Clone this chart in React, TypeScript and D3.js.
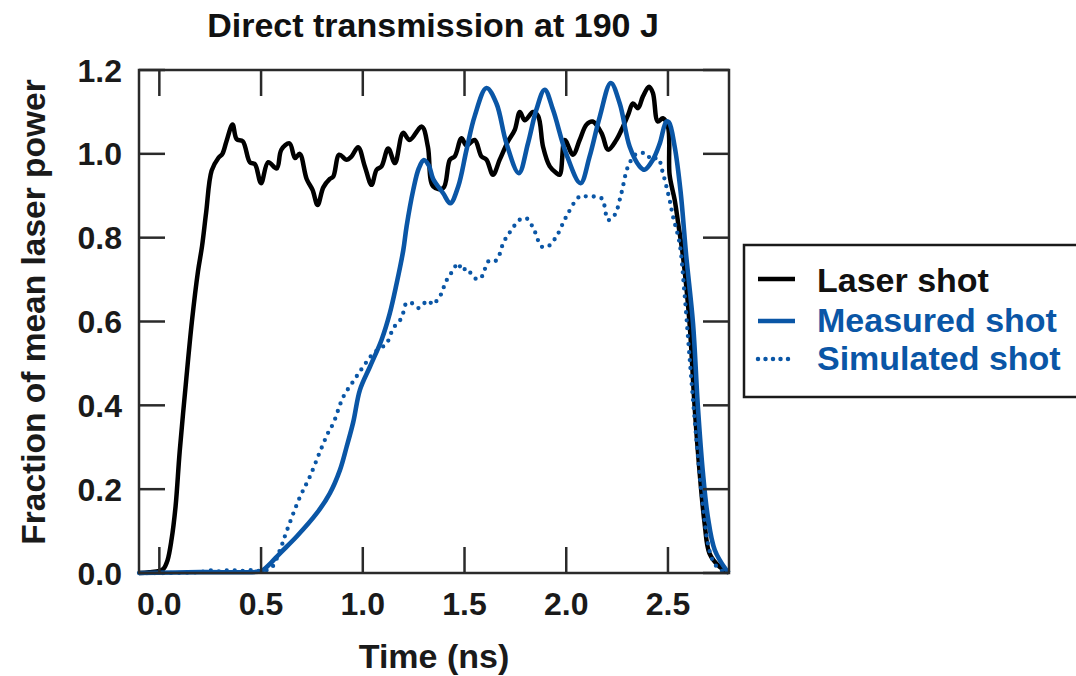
import React from "react";
import * as d3 from "d3";

const title = "Direct transmission at 190 J";
const xLabel = "Time (ns)";
const yLabel = "Fraction of mean laser power";
const xTicks = [0, 0.5, 1.0, 1.5, 2.0, 2.5];
const yTicks = [0, 0.2, 0.4, 0.6, 0.8, 1.0, 1.2];
const seriesNames = ["Laser shot", "Measured shot", "Simulated shot"];

const laserT = [-0.1, -0.05, 0.0, 0.02, 0.04, 0.06, 0.08, 0.1, 0.13, 0.16, 0.19, 0.21, 0.23, 0.257, 0.29, 0.31, 0.33, 0.36, 0.38, 0.41, 0.445, 0.47, 0.5, 0.535, 0.577, 0.6, 0.64, 0.667, 0.69, 0.724, 0.753, 0.778, 0.806, 0.838, 0.855, 0.884, 0.92, 0.945, 0.977, 1.01, 1.043, 1.068, 1.092, 1.125, 1.158, 1.198, 1.23, 1.29, 1.32, 1.346, 1.395, 1.428, 1.452, 1.485, 1.51, 1.55, 1.583, 1.608, 1.64, 1.673, 1.714, 1.747, 1.772, 1.796, 1.837, 1.862, 1.886, 1.919, 1.952, 1.968, 1.993, 2.033, 2.066, 2.1, 2.13, 2.173, 2.206, 2.246, 2.279, 2.304, 2.328, 2.353, 2.377, 2.407, 2.426, 2.45, 2.475, 2.5, 2.508, 2.533, 2.55, 2.574, 2.606, 2.631, 2.656, 2.68, 2.704, 2.754, 2.795];
const laserV = [0.0, 0.002, 0.005, 0.01, 0.03, 0.08, 0.16, 0.29, 0.45, 0.6, 0.72, 0.78, 0.86, 0.96, 0.99, 1.0, 1.03, 1.07, 1.035, 1.03, 0.98, 0.975, 0.93, 0.98, 0.965, 1.01, 1.025, 0.99, 1.0, 0.94, 0.914, 0.878, 0.92, 0.94, 0.946, 0.998, 0.986, 0.994, 1.016, 0.97, 0.926, 0.962, 0.97, 1.013, 0.978, 1.05, 1.033, 1.065, 1.017, 0.922, 0.918, 0.986, 0.994, 1.037, 1.02, 1.033, 0.994, 0.986, 0.95, 0.986, 1.03, 1.057, 1.1, 1.08, 1.1, 1.09, 1.017, 0.97, 0.954, 0.95, 1.033, 0.998, 1.033, 1.07, 1.077, 1.05, 1.01, 1.033, 1.065, 1.093, 1.12, 1.109, 1.137, 1.16, 1.145, 1.077, 1.085, 1.065, 0.95, 0.89, 0.835, 0.755, 0.597, 0.397, 0.238, 0.119, 0.047, 0.015, 0.003];

const measuredT = [-0.1, 0.2, 0.5, 0.51, 0.55, 0.593, 0.675, 0.773, 0.838, 0.888, 0.92, 0.953, 0.986, 1.035, 1.092, 1.133, 1.166, 1.199, 1.215, 1.248, 1.275, 1.3, 1.325, 1.346, 1.395, 1.43, 1.469, 1.51, 1.55, 1.608, 1.657, 1.706, 1.767, 1.812, 1.853, 1.894, 1.935, 2.0, 2.07, 2.115, 2.165, 2.219, 2.263, 2.312, 2.361, 2.385, 2.426, 2.46, 2.492, 2.505, 2.533, 2.562, 2.59, 2.623, 2.647, 2.672, 2.696, 2.73, 2.787, 2.8];
const measuredV = [0.0, 0.002, 0.004, 0.007, 0.025, 0.047, 0.087, 0.142, 0.19, 0.246, 0.3, 0.36, 0.437, 0.492, 0.556, 0.62, 0.69, 0.77, 0.826, 0.914, 0.965, 0.985, 0.972, 0.94, 0.906, 0.882, 0.922, 1.01, 1.09, 1.157, 1.12, 1.025, 0.954, 1.025, 1.105, 1.153, 1.105, 1.0, 0.93, 0.994, 1.089, 1.169, 1.12, 1.017, 0.97, 0.962, 0.986, 1.025, 1.077, 1.075, 1.017, 0.91, 0.755, 0.596, 0.397, 0.238, 0.134, 0.055, 0.007, 0.0];

const simulatedT = [-0.1, 0.2, 0.25, 0.3, 0.35, 0.4, 0.45, 0.5, 0.55, 0.593, 0.626, 0.69, 0.74, 0.79, 0.83, 0.855, 0.904, 0.953, 1.002, 1.052, 1.117, 1.15, 1.19, 1.215, 1.24, 1.273, 1.289, 1.32, 1.346, 1.37, 1.392, 1.403, 1.424, 1.444, 1.469, 1.488, 1.51, 1.534, 1.564, 1.591, 1.603, 1.621, 1.654, 1.673, 1.685, 1.7, 1.726, 1.772, 1.805, 1.845, 1.878, 1.91, 1.952, 2.0, 2.066, 2.107, 2.173, 2.206, 2.238, 2.271, 2.304, 2.345, 2.394, 2.418, 2.45, 2.475, 2.508, 2.525, 2.557, 2.58, 2.606, 2.64, 2.672, 2.696, 2.72, 2.75, 2.78];
const simulatedV = [0.0, 0.002, 0.006, 0.004, 0.007, 0.005, 0.007, 0.005, 0.012, 0.055, 0.1, 0.18, 0.23, 0.29, 0.335, 0.357, 0.42, 0.457, 0.492, 0.524, 0.548, 0.584, 0.608, 0.644, 0.644, 0.632, 0.637, 0.65, 0.64, 0.655, 0.671, 0.691, 0.707, 0.723, 0.739, 0.721, 0.727, 0.713, 0.7, 0.711, 0.729, 0.745, 0.745, 0.761, 0.78, 0.796, 0.815, 0.843, 0.846, 0.815, 0.779, 0.779, 0.803, 0.85, 0.898, 0.898, 0.894, 0.842, 0.854, 0.906, 0.97, 1.0, 1.0, 0.986, 0.99, 0.954, 0.89, 0.85, 0.787, 0.675, 0.516, 0.317, 0.158, 0.071, 0.03, 0.01, 0.002];

const BLUE = "#0a56a6";
const AXIS = "#2a2a2a";
const FONT = "'Liberation Sans', Arial, Helvetica, sans-serif";

export default function App() {
  const W = 1076;
  const H = 676;
  const left = 139, right = 729, top = 70, bottom = 573;
  const x = d3.scaleLinear().domain([-0.1, 2.8]).range([left, right]);
  const y = d3.scaleLinear().domain([0, 1.2]).range([bottom, top]);

  const mk = (ts: number[], vs: number[]) => ts.map((t, i) => [t, vs[i]] as [number, number]);
  const line = d3
    .line<[number, number]>()
    .x((d) => x(d[0]))
    .y((d) => y(d[1]))
    .curve(d3.curveCatmullRom.alpha(0.5));

  const laser = line(mk(laserT, laserV)) || "";
  const measured = line(mk(measuredT, measuredV)) || "";
  const simulated = line(mk(simulatedT, simulatedV)) || "";

  const tickLen = 26;
  const fmt = d3.format(".1f");

  const legendRows = [
    { name: seriesNames[0], color: "#000", textColor: "#111", dash: null as string | null, y: 279, base: 292 },
    { name: seriesNames[1], color: BLUE, textColor: BLUE, dash: null, y: 321, base: 332 },
    { name: seriesNames[2], color: BLUE, textColor: BLUE, dash: "0 7.5", y: 359, base: 370 },
  ];

  return (
    <svg
      width={W}
      height={H}
      style={{ position: "absolute", left: 0, top: 0, background: "#fff" }}
      fontFamily={FONT}
    >
      <rect x={0} y={0} width={W} height={H} fill="#fff" />
      <text x={433} y={37} textAnchor="middle" fontSize={34} fontWeight="bold" fill="#111">
        {title}
      </text>

      {/* curves */}
      <g fill="none" strokeLinejoin="round">
        <path d={laser} stroke="#000" strokeWidth={4.5} />
        <path d={simulated} stroke={BLUE} strokeWidth={4.3} strokeDasharray="0 8" strokeLinecap="round" />
        <path d={measured} stroke={BLUE} strokeWidth={4.6} />
      </g>

      {/* frame */}
      <rect x={left} y={top} width={right - left} height={bottom - top} fill="none" stroke={AXIS} strokeWidth={2.5} />
      <g stroke={AXIS} strokeWidth={2.5}>
        {xTicks.map((t) => (
          <g key={"xt" + t}>
            <line x1={x(t)} x2={x(t)} y1={bottom} y2={bottom - tickLen} />
            <line x1={x(t)} x2={x(t)} y1={top} y2={top + tickLen} />
          </g>
        ))}
        {yTicks.map((v) => (
          <g key={"yt" + v}>
            <line x1={left} x2={left + tickLen} y1={y(v)} y2={y(v)} />
            <line x1={right} x2={right - tickLen} y1={y(v)} y2={y(v)} />
          </g>
        ))}
      </g>

      {/* tick labels */}
      <g fontSize={32} fontWeight="bold" fill="#1a1a1a">
        {xTicks.map((t) => (
          <text key={"xl" + t} x={x(t)} y={615} textAnchor="middle">
            {fmt(t)}
          </text>
        ))}
        {yTicks.map((v) => (
          <text key={"yl" + v} x={122} y={y(v)} dy="0.36em" textAnchor="end">
            {fmt(v)}
          </text>
        ))}
      </g>

      <text x={434} y={668} textAnchor="middle" fontSize={34} fontWeight="bold" fill="#1a1a1a">
        {xLabel}
      </text>
      <text
        transform={`translate(45, 312) rotate(-90)`}
        textAnchor="middle"
        fontSize={33.5}
        fontWeight="bold"
        fill="#1a1a1a"
      >
        {yLabel}
      </text>

      {/* legend */}
      <rect x={744} y={245} width={345} height={152} fill="#fff" stroke="#1a1a1a" strokeWidth={2.5} />
      {legendRows.map((r) => (
        <g key={r.name}>
          <line
            x1={758}
            x2={795}
            y1={r.y}
            y2={r.y}
            stroke={r.color}
            strokeWidth={4.5}
            strokeDasharray={r.dash || undefined}
            strokeLinecap={r.dash ? "round" : "butt"}
          />
          <text x={817} y={r.base} fontSize={34} fontWeight="bold" fill={r.textColor}>
            {r.name}
          </text>
        </g>
      ))}
    </svg>
  );
}
